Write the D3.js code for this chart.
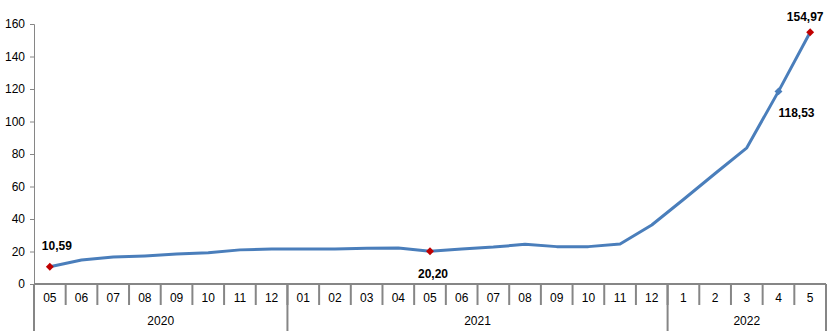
<!DOCTYPE html>
<html>
<head>
<meta charset="utf-8">
<script src="https://cdn.jsdelivr.net/npm/d3@7"></script>
<style>
  body { margin: 0; background: #fff; }
  text { font-family: "Liberation Sans", Arial, sans-serif; }
</style>
</head>
<body>
<svg width="835" height="331"></svg>
<script>
// data
let months = ["05","06","07","08","09","10","11","12",
              "01","02","03","04","05","06","07","08","09","10","11","12",
              "1","2","3","4","5"]
let years = ["2020","2021","2022"]
let yearCounts = [8, 12, 5]
let values = [10.59, 14.8, 16.6, 17.3, 18.4, 19.2, 21.0, 21.6,
              21.6, 21.6, 22.0, 22.1, 20.20, 21.5, 22.7, 24.4, 23.0, 23.0, 24.6, 36.3,
              52.0, 68.0, 83.8, 118.53, 154.97]
let yTicks = [0, 20, 40, 60, 80, 100, 120, 140, 160]
// labelled points: index, label, placement
let labelled = [
  {i: 0, text: "10,59", pos: "above", color: "#C00000"},
  {i: 12, text: "20,20", pos: "below", color: "#C00000"},
  {i: 23, text: "118,53", pos: "belowright", color: "#4A7EBB"},
  {i: 24, text: "154,97", pos: "above", color: "#C00000"}
]

let svg = d3.select("svg")
let mLeft = 34, mRight = 826, mTop = 24, mBottom = 284
let axisGrey = "#868686"

let keys = months.map(function (m, i) { return i })
let xScale = d3.scaleBand().domain(keys).range([mLeft, mRight])
let yScale = d3.scaleLinear().domain([0, 160]).range([mBottom, mTop])

// y axis
let yAxis = svg.append("g")
    .attr("transform", "translate(" + mLeft + ",0)")
    .call(d3.axisLeft(yScale).tickValues(yTicks).tickSize(4).tickPadding(5))
yAxis.select(".domain").attr("stroke", axisGrey)
yAxis.selectAll(".tick line").attr("stroke", axisGrey)
yAxis.selectAll(".tick text").attr("font-size", 12).attr("fill", "#000")
    .attr("font-family", "Liberation Sans, Arial, sans-serif")

// x axis baseline
svg.append("line")
    .attr("x1", mLeft).attr("x2", mRight)
    .attr("y1", mBottom).attr("y2", mBottom)
    .attr("stroke", axisGrey).attr("stroke-width", 2)

// month dividers + labels
let g = svg.append("g")
keys.forEach(function (k) {
  g.append("line")
      .attr("x1", xScale(k) + xScale.bandwidth()).attr("x2", xScale(k) + xScale.bandwidth())
      .attr("y1", mBottom).attr("y2", 305)
      .attr("stroke", axisGrey).attr("stroke-width", 2)
  g.append("text")
      .attr("x", xScale(k) + xScale.bandwidth() / 2)
      .attr("y", 302)
      .attr("text-anchor", "middle")
      .attr("font-size", 12)
      .text(months[k])
})

// year groups
let start = 0
years.forEach(function (y, j) {
  let x0 = xScale(start)
  let last = start + yearCounts[j] - 1
  let x1 = xScale(last) + xScale.bandwidth()
  g.append("line")
      .attr("x1", x0).attr("x2", x0)
      .attr("y1", mBottom).attr("y2", 331)
      .attr("stroke", axisGrey).attr("stroke-width", 2)
  if (j == years.length - 1) {
    g.append("line")
        .attr("x1", x1).attr("x2", x1)
        .attr("y1", mBottom).attr("y2", 331)
        .attr("stroke", axisGrey).attr("stroke-width", 2)
  }
  g.append("text")
      .attr("x", (x0 + x1) / 2)
      .attr("y", 325)
      .attr("text-anchor", "middle")
      .attr("font-size", 12)
      .text(y)
  start += yearCounts[j]
})

// line
let line = d3.line()
    .x(function (d, i) { return xScale(i) + xScale.bandwidth() / 2 })
    .y(function (d) { return yScale(d) })

svg.append("path")
    .datum(values)
    .attr("fill", "none")
    .attr("stroke", "#4A7EBB")
    .attr("stroke-width", 3)
    .attr("stroke-linejoin", "round")
    .attr("d", line)

// markers + labels
labelled.forEach(function (p) {
  let cx = xScale(p.i) + xScale.bandwidth() / 2
  let cy = yScale(values[p.i])
  svg.append("path")
      .attr("d", d3.symbol().type(d3.symbolDiamond2).size(40)())
      .attr("transform", "translate(" + cx + "," + cy + ")")
      .attr("fill", p.color)
  let tx = cx + 7, ty = cy - 17, anchor = "middle"
  if (p.pos == "below") { tx = cx + 3; ty = cy + 27 }
  if (p.pos == "belowright") { tx = cx; ty = cy + 26; anchor = "start" }
  if (p.i == values.length - 1) { tx = cx - 5; ty = cy - 11 }
  svg.append("text")
      .attr("x", tx).attr("y", ty)
      .attr("text-anchor", anchor)
      .attr("font-size", 12)
      .attr("font-weight", "bold")
      .text(p.text)
})
</script>
</body>
</html>
